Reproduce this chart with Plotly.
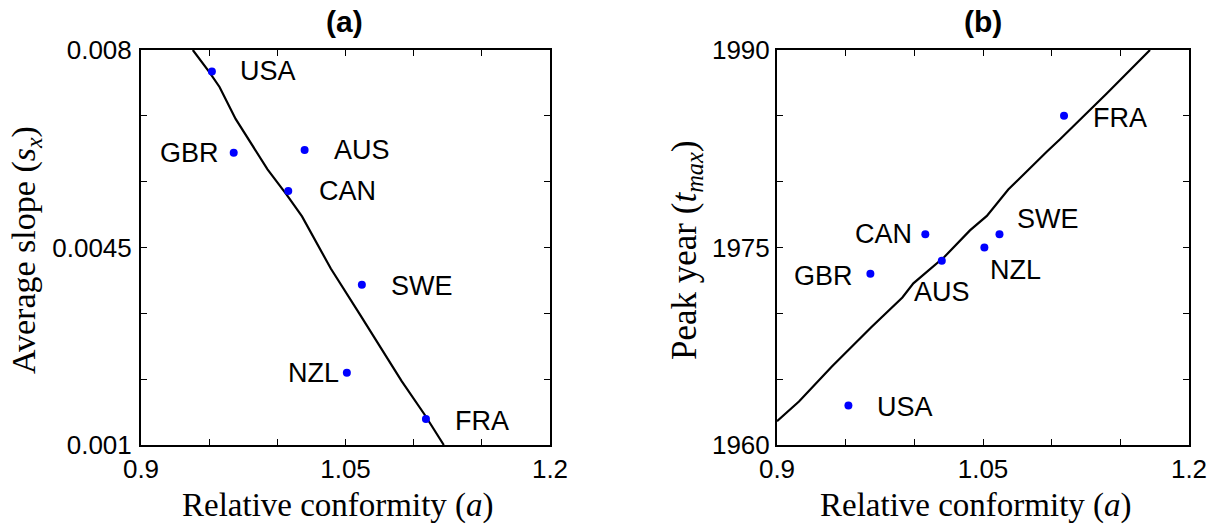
import plotly.graph_objects as go

# ---------------- data ----------------
countries = ["USA", "GBR", "CAN", "AUS", "NZL", "SWE", "FRA"]
conformity = [0.952, 0.968, 1.008, 1.020, 1.051, 1.062, 1.109]
avg_slope = [0.00762, 0.00618, 0.00550, 0.00623, 0.00228, 0.00384, 0.00146]
peak_year = [1963, 1973, 1976, 1974, 1975, 1976, 1985]

fit_a_x = [0.938, 0.950, 0.9576, 0.9694, 0.9928, 1.0068, 1.0181, 1.0279, 1.0392,
           1.0603, 1.0771, 1.0912, 1.1081, 1.1221]
fit_a_y = [0.0080, 0.007613, 0.007345, 0.006779, 0.005885, 0.005438, 0.005051,
           0.004634, 0.004128, 0.003323, 0.002668, 0.002132, 0.001536, 0.0010]

fit_b_x = [0.900, 0.916, 0.9398, 0.969, 0.9913, 0.9993, 1.022, 1.0405, 1.0528,
           1.0684, 1.0964, 1.1059, 1.1401, 1.1716]
fit_b_y = [1961.8, 1963.3, 1965.95, 1968.98, 1971.2, 1972.28, 1974.3, 1976.3,
           1977.4, 1979.4, 1982.27, 1983.2, 1986.7, 1990.0]

x_tickvals = [0.9, 0.95, 1.0, 1.05, 1.1, 1.15, 1.2]
x_ticktext = ["0.9", "", "", "1.05", "", "", "1.2"]
ya_tickvals = [0.001, 0.0021667, 0.0033333, 0.0045, 0.0056667, 0.0068333, 0.008]
ya_ticktext = ["0.001", "", "", "0.0045", "", "", "0.008"]
yb_tickvals = [1960, 1965, 1970, 1975, 1980, 1985, 1990]
yb_ticktext = ["1960", "", "", "1975", "", "", "1990"]

# label placement styles (pixel offsets relative to the dot)
label_a = {
    "USA": ("left", 26, 0), "GBR": ("right", -13, 0), "CAN": ("left", 29, 0),
    "AUS": ("left", 27, 0), "NZL": ("right", -6, 0), "SWE": ("left", 27, -1),
    "FRA": ("left", 27, -2),
}
label_b = {
    "USA": ("left", 27, -1), "GBR": ("right", -15, -2), "CAN": ("right", -11, 0),
    "AUS": ("center", 0, -31), "NZL": ("left", 4, -22), "SWE": ("left", 16, 15),
    "FRA": ("left", 27, -2),
}

W, H = 1222, 529
BOX_A = (141, 550)
BOX_B = (777, 1189)
BOX_Y = (50, 445)

SANS = "Liberation Sans, Arial, Helvetica, sans-serif"
SERIF = "Liberation Serif, Times New Roman, serif"

fig = go.Figure()

fig.add_trace(go.Scatter(x=fit_a_x, y=fit_a_y, mode="lines",
                         line=dict(color="black", width=2.2),
                         xaxis="x", yaxis="y", showlegend=False, hoverinfo="skip"))
fig.add_trace(go.Scatter(x=conformity, y=avg_slope, mode="markers",
                         marker=dict(color="#0000ff", size=8),
                         xaxis="x", yaxis="y", showlegend=False))
fig.add_trace(go.Scatter(x=fit_b_x, y=fit_b_y, mode="lines",
                         line=dict(color="black", width=2.2),
                         xaxis="x2", yaxis="y2", showlegend=False, hoverinfo="skip"))
fig.add_trace(go.Scatter(x=conformity, y=peak_year, mode="markers",
                         marker=dict(color="#0000ff", size=8),
                         xaxis="x2", yaxis="y2", showlegend=False))

annotations = []
for c, xv, yv in zip(countries, conformity, avg_slope):
    anchor, dx, dy = label_a[c]
    annotations.append(dict(x=xv, y=yv, xref="x", yref="y", text=c, showarrow=False,
                            xanchor=anchor, yanchor="middle", xshift=dx, yshift=dy,
                            font=dict(family=SANS, size=27, color="black")))
for c, xv, yv in zip(countries, conformity, peak_year):
    anchor, dx, dy = label_b[c]
    annotations.append(dict(x=xv, y=yv, xref="x2", yref="y2", text=c, showarrow=False,
                            xanchor=anchor, yanchor="middle", xshift=dx, yshift=dy,
                            font=dict(family=SANS, size=27, color="black")))


def px_x(p):
    return p / W


def px_y(p):
    return 1 - p / H


# titles
annotations.append(dict(x=px_x(344), y=px_y(22), xref="paper", yref="paper", text="<b>(a)</b>",
                        showarrow=False, xanchor="center", yanchor="middle",
                        font=dict(family=SANS, size=30, color="black")))
annotations.append(dict(x=px_x(983), y=px_y(22), xref="paper", yref="paper", text="<b>(b)</b>",
                        showarrow=False, xanchor="center", yanchor="middle",
                        font=dict(family=SANS, size=30, color="black")))
# axis titles
annotations.append(dict(x=px_x(338), y=px_y(505), xref="paper", yref="paper",
                        text="Relative conformity (<i>a</i>)", showarrow=False,
                        xanchor="center", yanchor="middle", borderpad=0,
                        font=dict(family=SERIF, size=33, color="black")))
annotations.append(dict(x=px_x(976), y=px_y(505), xref="paper", yref="paper",
                        text="Relative conformity (<i>a</i>)", showarrow=False,
                        xanchor="center", yanchor="middle", borderpad=0,
                        font=dict(family=SERIF, size=33, color="black")))
annotations.append(dict(x=px_x(26), y=px_y(250), xref="paper", yref="paper",
                        text="Average slope (<i>s</i><sub><i>x</i></sub>)", showarrow=False,
                        textangle=-90, xanchor="center", yanchor="middle",
                        font=dict(family=SERIF, size=34, color="black")))
annotations.append(dict(x=px_x(686), y=px_y(250), xref="paper", yref="paper",
                        text="Peak year (<i>t</i><sub><i>max</i></sub>)", showarrow=False,
                        textangle=-90, xanchor="center", yanchor="middle",
                        font=dict(family=SERIF, size=35, color="black")))

axis_common = dict(showline=True, linecolor="black", linewidth=2, mirror="allticks",
                   ticks="inside", ticklen=6, tickwidth=1.2, tickcolor="black",
                   showgrid=False, zeroline=False, automargin=False,
                   tickfont=dict(family=SANS, size=26, color="black"))

fig.update_layout(
    width=W, height=H,
    margin=dict(l=0, r=0, t=0, b=0, autoexpand=False),
    paper_bgcolor="white", plot_bgcolor="white",
    xaxis=dict(domain=[px_x(BOX_A[0]), px_x(BOX_A[1])], range=[0.9, 1.2],
               tickvals=x_tickvals, ticktext=x_ticktext, anchor="y",
               ticklabelstandoff=0, **axis_common),
    yaxis=dict(domain=[px_y(BOX_Y[1]), px_y(BOX_Y[0])], range=[0.001, 0.008],
               tickvals=ya_tickvals, ticktext=ya_ticktext, anchor="x",
               ticklabelstandoff=2, **axis_common),
    xaxis2=dict(domain=[px_x(BOX_B[0]), px_x(BOX_B[1])], range=[0.9, 1.2],
                tickvals=x_tickvals, ticktext=x_ticktext, anchor="y2",
                ticklabelstandoff=0, **axis_common),
    yaxis2=dict(domain=[px_y(BOX_Y[1]), px_y(BOX_Y[0])], range=[1960, 1990],
                tickvals=yb_tickvals, ticktext=yb_ticktext, anchor="x2",
                ticklabelstandoff=0, **axis_common),
    annotations=annotations,
)

fig.write_html("out.html", config={"displayModeBar": False},
               post_script="document.body.style.margin='0';document.body.style.overflow='hidden';")
